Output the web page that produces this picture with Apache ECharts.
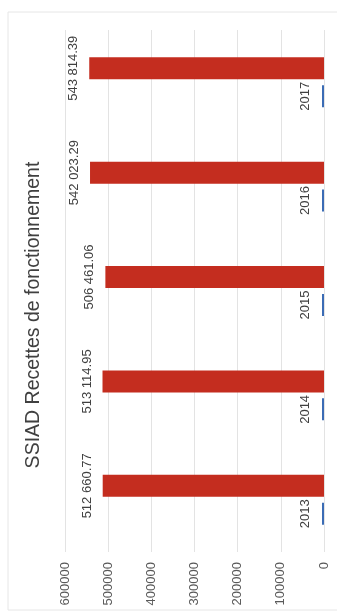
<!DOCTYPE html>
<html>
<head>
<meta charset="utf-8">
<script src="https://cdn.jsdelivr.net/npm/echarts@6/dist/echarts.min.js"></script>
<style>
  html, body { margin: 0; padding: 0; background: #fff; }
  #chart { width: 337px; height: 615px; }
</style>
</head>
<body>
<div id="chart"></div>
<script>
// chart is drawn rotated, like the scanned sheet
const years = ['2013', '2014', '2015', '2016', '2017'];
const yearValues = [2013, 2014, 2015, 2016, 2017];
const recettes = [512660.77, 513114.95, 506461.06, 542023.29, 543814.39];
const titleText = 'SSIAD Recettes de fonctionnement';

const font = 'Liberation Sans';

// 512660.77 -> "512 660.77"
function formatMontant(v) {
  const parts = v.toFixed(2).split('.');
  return parts[0].replace(/\B(?=(\d{3})+(?!\d))/g, ' ') + '.' + parts[1];
}

const myChart = echarts.init(document.getElementById('chart'));
myChart.setOption({
  animation: false,
  backgroundColor: '#fff',
  textStyle: { fontFamily: font },
  grid: { left: 65, right: 13, top: 30, bottom: 63, containLabel: false },
  graphic: [
    {
      type: 'rect',
      shape: { x: 8, y: 12, width: 340, height: 598 },
      style: { fill: 'none', stroke: '#e6e6e6', lineWidth: 1 },
      silent: true
    },
    {
      type: 'text',
      x: 34,
      y: 315,
      rotation: Math.PI / 2,
      style: {
        text: titleText,
        fontFamily: font,
        fontSize: 19.5,
        fill: '#404040',
        textAlign: 'center',
        textVerticalAlign: 'middle'
      }
    }
  ],
  xAxis: {
    type: 'value',
    inverse: true,
    min: 0,
    max: 600000,
    interval: 100000,
    axisLine: { show: false },
    axisTick: { show: false },
    axisLabel: {
      rotate: 90,
      color: '#595959',
      fontSize: 13,
      margin: 10,
      formatter: (v) => String(v)
    },
    splitLine: { lineStyle: { color: '#e3e3e3' } }
  },
  yAxis: {
    type: 'category',
    position: 'right',
    data: years,
    axisLine: { show: false },
    axisTick: { show: false },
    axisLabel: { show: false },
    splitLine: { show: false }
  },
  series: [
    {
      name: 'Recettes',
      type: 'bar',
      data: recettes,
      barWidth: 22,
      barGap: '27%',
      itemStyle: { color: '#c42d1f' },
      label: {
        show: true,
        position: 'left',
        distance: 9,
        rotate: 90,
        align: 'center',
        verticalAlign: 'bottom',
        color: '#404040',
        fontSize: 13,
        formatter: (p) => formatMontant(p.value)
      }
    },
    {
      name: 'Année',
      type: 'bar',
      data: yearValues,
      barWidth: 22,
      barMinHeight: 2,
      itemStyle: { color: '#3b6cb5' },
      label: {
        show: true,
        position: 'left',
        distance: 10,
        rotate: 90,
        align: 'center',
        verticalAlign: 'bottom',
        color: '#404040',
        fontSize: 13
      }
    }
  ]
});
</script>
</body>
</html>
